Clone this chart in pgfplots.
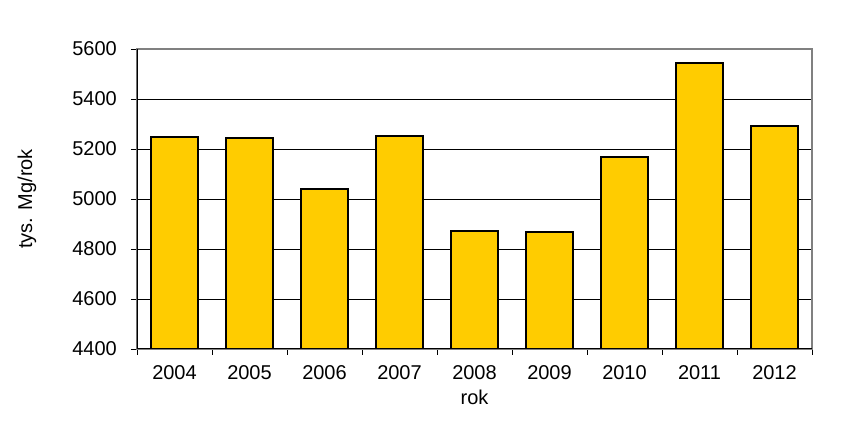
\documentclass[border=0pt]{standalone}
\usepackage{fontspec}
\setmainfont{Liberation Sans}
\usepackage{pgfplots}
\pgfplotsset{compat=1.18}
\definecolor{barfill}{HTML}{FFCC00}
\begin{document}
\begin{tikzpicture}[x=1pt,y=1pt]
\path[use as bounding box] (0,0) rectangle (844,436);
\begin{axis}[
  at={(137pt,87pt)}, anchor=south west,
  scale only axis, width=675pt, height=300pt,
  xmin=-0.5, xmax=8.5, ymin=4400, ymax=5600,
  xtick={0,...,8},
  xticklabels={2004,2005,2006,2007,2008,2009,2010,2011,2012},
  minor xtick={-0.5,0.5,...,8.5},
  ytick={4400,4600,...,5600},
  tick align=outside, tick pos=left,
  major tick length=6pt, minor tick length=6pt,
  major x tick style={draw=none},
  tick style={black, line width=0.8pt},
  ymajorgrids, grid style={black, line width=0.8pt},
  axis line style={gray, line width=1.2pt},
  /pgf/number format/1000 sep={},
  /pgf/number format/assume math mode=true,
  ticklabel style={font=\fontsize{20}{24}\selectfont},
  yticklabel style={inner sep=0pt, xshift=-14pt},
  xticklabel style={inner sep=0pt, yshift=-10pt},
  label style={font=\fontsize{20}{24}\selectfont},
  xlabel={rok}, ylabel={tys. Mg/rok},
  xlabel style={at={(axis description cs:0.5,-0.16)}, anchor=center},
  ylabel style={at={(axis description cs:-0.163,0.5)}, anchor=center, rotate=0},
]
\addplot[ybar, bar width=47pt, fill=barfill, draw=black, line width=2pt]
  coordinates {(0,5249) (1,5245) (2,5041) (3,5253) (4,4873) (5,4869) (6,5166) (7,5545) (8,5293)};
\draw[black, line width=1.2pt] (rel axis cs:0,1) -- (rel axis cs:0,0) -- (rel axis cs:1,0);
\end{axis}
\end{tikzpicture}
\end{document}
